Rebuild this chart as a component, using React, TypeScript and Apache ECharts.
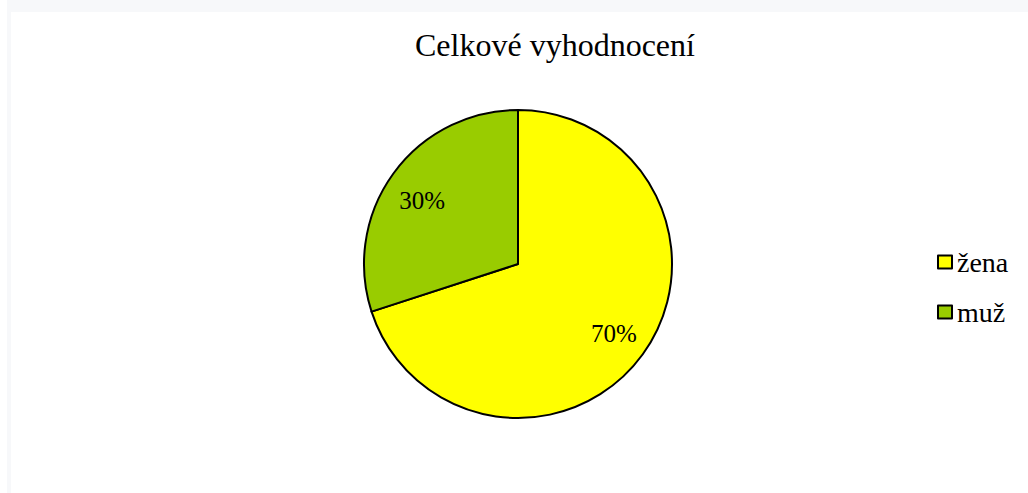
import React, { useEffect, useRef } from "react";
import * as echarts from "echarts";

const titleText = "Celkové vyhodnocení";
const categories = ["žena", "muž"];
const values = [70, 30];
const colors = ["#ffff00", "#99cc00"];

const FONT = "Liberation Serif, Times New Roman, serif";

export default function App() {
  const ref = useRef<HTMLDivElement>(null);
  useEffect(() => {
    if (!ref.current) return;
    const chart = echarts.init(ref.current, null, { renderer: "svg" });
    const data = categories.map((name, i) => ({
      name,
      value: values[i],
      itemStyle: { color: colors[i] },
    }));
    chart.setOption({
      animation: false,
      backgroundColor: "#ffffff",
      title: {
        text: titleText,
        left: 399,
        top: 12,
        textStyle: { fontFamily: FONT, fontSize: 32, fontWeight: "normal", color: "#000" },
      },
      legend: {
        orient: "vertical",
        left: 921,
        top: 231,
        itemWidth: 14,
        itemHeight: 13,
        itemGap: 22,
        icon: "rect",
        data: categories,
        textStyle: { fontFamily: FONT, fontSize: 28, color: "#000" },
        itemStyle: { borderColor: "#000", borderWidth: 2 },
      },
      series: [
        {
          type: "pie",
          center: [507, 252],
          radius: [0, 154],
          startAngle: 90,
          clockwise: true,
          label: { show: false },
          labelLine: { show: false },
          itemStyle: { borderColor: "#000", borderWidth: 2 },
          emphasis: { disabled: true },
          data,
        },
        {
          type: "pie",
          center: [507, 252],
          radius: [77, 154],
          startAngle: 90,
          clockwise: true,
          silent: true,
          itemStyle: { color: "transparent", borderWidth: 0 },
          label: {
            show: true,
            position: "inside",
            formatter: "{d}%",
            fontFamily: FONT,
            fontSize: 25,
            color: "#000",
          },
          labelLine: { show: false },
          emphasis: { disabled: true },
          data: categories.map((name, i) => ({
            name,
            value: values[i],
            itemStyle: { color: "transparent" },
            label: i === 1 ? { offset: [0, 6] } : {},
          })),
        },
      ],
    });
    return () => chart.dispose();
  }, []);
  return (
    <div style={{ position: "absolute", left: 7, top: 0, width: 1021, height: 493, background: "#f7f8fa" }}>
      <div ref={ref} style={{ position: "absolute", left: 4, top: 12, width: 1017, height: 481 }} />
    </div>
  );
}
